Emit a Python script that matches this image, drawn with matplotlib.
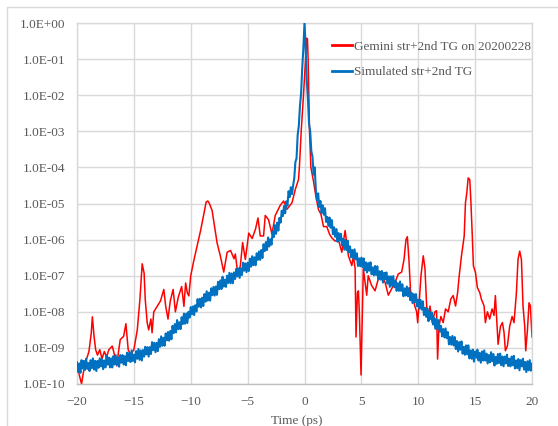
import matplotlib
matplotlib.use('Agg')
import matplotlib.pyplot as plt
import numpy as np
from matplotlib.patches import Rectangle
from matplotlib.ticker import FuncFormatter

# measured trace: Gemini str+2nd TG on 20200228 (time in ps, log10 of intensity)
red_t = [-20.0, -19.8, -19.6, -19.45, -19.25, -18.95, -18.75, -18.65, -18.5, -18.36,
         -18.2, -18.0, -17.8, -17.6, -17.4, -17.2, -16.9, -16.7, -16.5, -16.35,
         -16.2, -15.9, -15.7, -15.5, -15.3, -15.0, -14.7, -14.47, -14.27, -14.1,
         -14.0, -13.83, -13.7, -13.5, -13.4, -13.25, -12.95, -12.66, -12.37, -12.2,
         -12.0, -11.8, -11.55, -11.35, -11.1, -10.8, -10.6, -10.45, -10.3, -10.17,
         -10.0, -9.73, -9.44, -9.15, -8.86, -8.65, -8.5, -8.36, -8.12, -7.89,
         -7.68, -7.4, -7.1, -6.8, -6.5, -6.2, -6.08, -5.84, -5.64, -5.44,
         -5.2, -4.9, -4.6, -4.3, -4.09, -3.89, -3.6, -3.45, -3.16, -2.86,
         -2.57, -2.13, -1.84, -1.54, -1.1, -0.8, -0.53, -0.45, -0.29, -0.09,
         0.09, 0.2, 0.26, 0.32, 0.38, 0.44, 0.56, 0.8, 1.0, 1.23,
         1.45, 1.67, 1.96, 2.2, 2.4, 2.69, 2.98, 3.28, 3.57, 3.86,
         4.16, 4.3, 4.45, 4.53, 4.65, 4.74, 4.82, 4.97, 5.09, 5.17,
         5.32, 5.47, 5.6, 5.9, 6.2, 6.49, 6.78, 7.08, 7.37, 7.67,
         7.96, 8.25, 8.54, 8.75, 8.92, 9.04, 9.18, 9.33, 9.56, 9.7,
         9.86, 9.95, 10.06, 10.24, 10.44, 10.59, 10.74, 10.88, 11.03, 11.23,
         11.46, 11.61, 11.7, 11.82, 11.99, 12.19, 12.4, 12.63, 12.87, 13.07,
         13.28, 13.46, 13.6, 13.8, 14.04, 14.15, 14.27, 14.39, 14.53, 14.62,
         14.74, 14.85, 15.03, 15.2, 15.41, 15.55, 15.79, 15.9, 16.08, 16.28,
         16.49, 16.66, 16.78, 16.9, 17.02, 17.23, 17.4, 17.54, 17.66, 17.84,
         18.04, 18.25, 18.42, 18.63, 18.77, 18.92, 19.07, 19.21, 19.36, 19.45,
         19.6, 19.74, 19.86, 20.0]
red_log = [-9.5, -9.75, -10.0, -9.7, -9.4, -9.1, -8.6, -8.14, -8.68, -9.05,
           -9.2, -9.05, -9.3, -9.1, -9.25, -9.05, -8.95, -9.2, -9.5, -9.1,
           -8.77, -8.68, -8.33, -9.05, -9.18, -9.05, -8.5, -7.66, -6.67, -6.93,
           -7.66, -8.3, -8.5, -8.2, -8.58, -8.0, -7.85, -7.7, -7.38, -7.85,
           -8.2, -7.7, -7.38, -8.0, -7.6, -7.3, -7.85, -7.2, -7.48, -7.56,
           -7.0, -6.58, -6.17, -5.77, -5.31, -4.96, -4.93, -5.0, -5.2, -5.67,
           -6.1, -6.45, -6.9, -6.35, -6.3, -6.53, -6.4, -7.0, -6.72, -6.08,
           -6.55, -5.82, -5.97, -5.7, -5.4, -5.9, -5.9, -5.33, -5.45, -5.85,
           -5.33, -5.05, -4.93, -5.16, -4.98, -4.6, -4.34, -4.0, -3.0, -2.0,
           -1.0, -0.42, -0.45, -1.0, -2.0, -3.0, -4.0, -4.4, -4.8, -5.17,
           -5.3, -5.64, -5.64, -5.85, -5.95, -6.04, -6.0, -6.35, -5.75, -6.45,
           -6.72, -6.45, -6.8, -8.7, -7.47, -7.42, -8.0, -9.75, -8.0, -6.8,
           -7.17, -7.54, -7.0, -7.27, -7.42, -7.09, -7.0, -7.18, -7.54, -7.36,
           -7.18, -6.95, -6.9, -6.55, -6.0, -5.92, -6.55, -7.47, -7.65, -7.84,
           -8.0, -8.3, -7.84, -7.0, -6.45, -6.8, -7.84, -8.2, -7.84, -8.3,
           -8.0, -7.97, -9.31, -8.4, -8.13, -8.3, -7.92, -8.0, -7.64, -7.55,
           -7.84, -7.47, -7.0, -6.45, -5.9, -4.98, -4.7, -4.29, -4.34, -4.89,
           -5.81, -6.73, -6.91, -7.33, -7.47, -7.65, -7.84, -8.3, -8.0, -8.2,
           -7.92, -8.1, -7.55, -8.2, -8.9, -8.4, -8.3, -8.57, -9.08, -8.94,
           -8.4, -8.13, -8.3, -7.47, -6.55, -6.32, -6.55, -7.84, -8.4, -9.08,
           -8.5, -7.75, -7.84, -8.7]

# simulated trace: Simulated str+2nd TG, one sample every 0.1 ps
blue_t = [-20.0, -19.9, -19.8, -19.7, -19.6, -19.5, -19.4, -19.3, -19.2, -19.1,
          -19.0, -18.9, -18.8, -18.7, -18.6, -18.5, -18.4, -18.3, -18.2, -18.1,
          -18.0, -17.9, -17.8, -17.7, -17.6, -17.5, -17.4, -17.3, -17.2, -17.1,
          -17.0, -16.9, -16.8, -16.7, -16.6, -16.5, -16.4, -16.3, -16.2, -16.1,
          -16.0, -15.9, -15.8, -15.7, -15.6, -15.5, -15.4, -15.3, -15.2, -15.1,
          -15.0, -14.9, -14.8, -14.7, -14.6, -14.5, -14.4, -14.3, -14.2, -14.1,
          -14.0, -13.9, -13.8, -13.7, -13.6, -13.5, -13.4, -13.3, -13.2, -13.1,
          -13.0, -12.9, -12.8, -12.7, -12.6, -12.5, -12.4, -12.3, -12.2, -12.1,
          -12.0, -11.9, -11.8, -11.7, -11.6, -11.5, -11.4, -11.3, -11.2, -11.1,
          -11.0, -10.9, -10.8, -10.7, -10.6, -10.5, -10.4, -10.3, -10.2, -10.1,
          -10.0, -9.9, -9.8, -9.7, -9.6, -9.5, -9.4, -9.3, -9.2, -9.1,
          -9.0, -8.9, -8.8, -8.7, -8.6, -8.5, -8.4, -8.3, -8.2, -8.1,
          -8.0, -7.9, -7.8, -7.7, -7.6, -7.5, -7.4, -7.3, -7.2, -7.1,
          -7.0, -6.9, -6.8, -6.7, -6.6, -6.5, -6.4, -6.3, -6.2, -6.1,
          -6.0, -5.9, -5.8, -5.7, -5.6, -5.5, -5.4, -5.3, -5.2, -5.1,
          -5.0, -4.9, -4.8, -4.7, -4.6, -4.5, -4.4, -4.3, -4.2, -4.1,
          -4.0, -3.9, -3.8, -3.7, -3.6, -3.5, -3.4, -3.3, -3.2, -3.1,
          -3.0, -2.9, -2.8, -2.7, -2.6, -2.5, -2.4, -2.3, -2.2, -2.1,
          -2.0, -1.9, -1.8, -1.7, -1.6, -1.5, -1.4, -1.3, -1.2, -1.1,
          -1.0, -0.9, -0.8, -0.7, -0.6, -0.5, -0.4, -0.3, -0.2, -0.1,
          0.0, 0.1, 0.2, 0.3, 0.4, 0.5, 0.6, 0.7, 0.8, 0.9,
          1.0, 1.1, 1.2, 1.3, 1.4, 1.5, 1.6, 1.7, 1.8, 1.9,
          2.0, 2.1, 2.2, 2.3, 2.4, 2.5, 2.6, 2.7, 2.8, 2.9,
          3.0, 3.1, 3.2, 3.3, 3.4, 3.5, 3.6, 3.7, 3.8, 3.9,
          4.0, 4.1, 4.2, 4.3, 4.4, 4.5, 4.6, 4.7, 4.8, 4.9,
          5.0, 5.1, 5.2, 5.3, 5.4, 5.5, 5.6, 5.7, 5.8, 5.9,
          6.0, 6.1, 6.2, 6.3, 6.4, 6.5, 6.6, 6.7, 6.8, 6.9,
          7.0, 7.1, 7.2, 7.3, 7.4, 7.5, 7.6, 7.7, 7.8, 7.9,
          8.0, 8.1, 8.2, 8.3, 8.4, 8.5, 8.6, 8.7, 8.8, 8.9,
          9.0, 9.1, 9.2, 9.3, 9.4, 9.5, 9.6, 9.7, 9.8, 9.9,
          10.0, 10.1, 10.2, 10.3, 10.4, 10.5, 10.6, 10.7, 10.8, 10.9,
          11.0, 11.1, 11.2, 11.3, 11.4, 11.5, 11.6, 11.7, 11.8, 11.9,
          12.0, 12.1, 12.2, 12.3, 12.4, 12.5, 12.6, 12.7, 12.8, 12.9,
          13.0, 13.1, 13.2, 13.3, 13.4, 13.5, 13.6, 13.7, 13.8, 13.9,
          14.0, 14.1, 14.2, 14.3, 14.4, 14.5, 14.6, 14.7, 14.8, 14.9,
          15.0, 15.1, 15.2, 15.3, 15.4, 15.5, 15.6, 15.7, 15.8, 15.9,
          16.0, 16.1, 16.2, 16.3, 16.4, 16.5, 16.6, 16.7, 16.8, 16.9,
          17.0, 17.1, 17.2, 17.3, 17.4, 17.5, 17.6, 17.7, 17.8, 17.9,
          18.0, 18.1, 18.2, 18.3, 18.4, 18.5, 18.6, 18.7, 18.8, 18.9,
          19.0, 19.1, 19.2, 19.3, 19.4, 19.5, 19.6, 19.7, 19.8, 19.9,
          20.0]
blue_log = [-9.40, -9.67, -9.43, -9.69, -9.34, -9.57, -9.36, -9.61, -9.30, -9.58,
            -9.42, -9.64, -9.34, -9.56, -9.29, -9.60, -9.36, -9.64, -9.36, -9.55,
            -9.29, -9.51, -9.32, -9.59, -9.35, -9.54, -9.22, -9.46, -9.27, -9.54,
            -9.29, -9.54, -9.23, -9.46, -9.20, -9.47, -9.27, -9.52, -9.20, -9.41,
            -9.20, -9.46, -9.23, -9.48, -9.13, -9.36, -9.14, -9.39, -9.07, -9.36,
            -9.19, -9.40, -9.09, -9.30, -9.03, -9.33, -9.07, -9.35, -9.06, -9.24,
            -8.97, -9.18, -8.98, -9.24, -8.98, -9.17, -8.84, -9.06, -8.86, -9.12,
            -8.86, -9.09, -8.76, -8.97, -8.68, -8.94, -8.72, -8.94, -8.60, -8.79,
            -8.56, -8.80, -8.53, -8.76, -8.39, -8.59, -8.34, -8.57, -8.23, -8.48,
            -8.29, -8.48, -8.15, -8.34, -8.05, -8.33, -8.05, -8.31, -8.00, -8.16,
            -7.87, -8.07, -7.85, -8.09, -7.82, -7.99, -7.65, -7.86, -7.64, -7.88,
            -7.61, -7.84, -7.51, -7.72, -7.43, -7.69, -7.47, -7.69, -7.35, -7.54,
            -7.31, -7.55, -7.30, -7.53, -7.17, -7.37, -7.13, -7.37, -7.03, -7.30,
            -7.11, -7.31, -7.00, -7.20, -6.92, -7.21, -6.94, -7.21, -6.91, -7.09,
            -6.81, -7.02, -6.80, -7.06, -6.80, -6.98, -6.64, -6.86, -6.66, -6.90,
            -6.64, -6.87, -6.53, -6.75, -6.46, -6.71, -6.49, -6.71, -6.38, -6.56,
            -6.33, -6.56, -6.29, -6.51, -6.13, -6.32, -6.07, -6.29, -5.94, -6.19,
            -5.99, -6.14, -5.78, -5.93, -5.60, -5.84, -5.53, -5.75, -5.40, -5.53,
            -5.20, -5.35, -5.07, -5.27, -4.94, -5.06, -4.66, -4.82, -4.55, -4.74,
            -4.50, -4.30, -3.85, -3.75, -3.10, -2.85, -2.30, -1.95, -1.25, -0.70,
            0.0, -0.70, -1.60, -2.10, -2.80, -3.00, -3.55, -3.70, -4.20, -4.00,
            -4.65, -4.91, -4.72, -5.10, -4.93, -5.26, -5.05, -5.31, -5.13, -5.51,
            -5.37, -5.62, -5.39, -5.67, -5.46, -5.85, -5.66, -5.92, -5.71, -6.06,
            -5.82, -6.02, -5.84, -6.16, -5.98, -6.28, -6.01, -6.29, -6.03, -6.35,
            -6.19, -6.49, -6.29, -6.52, -6.27, -6.55, -6.38, -6.73, -6.52, -6.74,
            -6.50, -6.76, -6.52, -6.85, -6.63, -6.91, -6.65, -6.86, -6.63, -6.96,
            -6.77, -6.99, -6.73, -6.98, -6.74, -7.10, -6.88, -7.11, -6.87, -7.19,
            -6.92, -7.10, -6.91, -7.22, -7.02, -7.31, -7.02, -7.28, -7.01, -7.32,
            -7.14, -7.42, -7.21, -7.42, -7.16, -7.42, -7.24, -7.57, -7.35, -7.55,
            -7.30, -7.57, -7.34, -7.68, -7.47, -7.76, -7.51, -7.73, -7.51, -7.85,
            -7.67, -7.91, -7.67, -7.94, -7.71, -8.09, -7.89, -8.14, -7.91, -8.26,
            -8.00, -8.20, -8.02, -8.35, -8.17, -8.47, -8.20, -8.48, -8.23, -8.55,
            -8.39, -8.68, -8.48, -8.71, -8.46, -8.73, -8.56, -8.90, -8.70, -8.91,
            -8.67, -8.93, -8.70, -9.03, -8.81, -9.10, -8.84, -9.05, -8.82, -9.16,
            -8.97, -9.19, -8.93, -9.18, -8.93, -9.29, -9.07, -9.30, -9.05, -9.38,
            -9.10, -9.27, -9.05, -9.35, -9.14, -9.41, -9.10, -9.35, -9.07, -9.35,
            -9.16, -9.43, -9.20, -9.40, -9.12, -9.37, -9.17, -9.49, -9.25, -9.44,
            -9.17, -9.42, -9.16, -9.48, -9.24, -9.51, -9.24, -9.43, -9.19, -9.50,
            -9.30, -9.51, -9.24, -9.48, -9.22, -9.57, -9.35, -9.56, -9.31, -9.62,
            -9.34, -9.51, -9.30, -9.60, -9.39, -9.67, -9.37, -9.62, -9.34, -9.63,
            -9.44]

x_ticks = [-20, -15, -10, -5, 0, 5, 10, 15, 20]
labels = ['Gemini str+2nd TG on 20200228', 'Simulated str+2nd TG']

txt = '#595959'
grid_c = '#d9d9d9'
plt.rcParams['font.family'] = ['Liberation Serif', 'DejaVu Serif']

fig = plt.figure(figsize=(5.58, 4.26), dpi=100)
ax = fig.add_axes([77/558, 1 - 384/426, 455/558, 361/426])

ax.plot(red_t, np.power(10.0, red_log), color='#ff0000', lw=1.1, label=labels[0], zorder=2)
ax.plot(blue_t, np.power(10.0, blue_log), color='#0070c0', lw=1.5, label=labels[1], zorder=3)

ax.set_yscale('log')
ax.set_ylim(1e-10, 1)
ax.set_xlim(-20, 20)
ax.set_xticks(x_ticks)
ax.set_yticks([10.0 ** k for k in range(-10, 1)])
ax.yaxis.set_minor_locator(matplotlib.ticker.NullLocator())
ax.yaxis.set_major_formatter(FuncFormatter(lambda v, p: f'{v:.1E}'))
ax.grid(True, color=grid_c, lw=1.0)
ax.set_axisbelow(True)
for s in ax.spines.values():
    s.set_color(grid_c)
    s.set_linewidth(1.0)
ax.spines['bottom'].set_color('#bfbfbf')
ax.tick_params(length=0, labelsize=9.5, labelcolor=txt)
ax.tick_params(axis='y', pad=8.5)
ax.tick_params(axis='x', pad=8.5)
ax.set_xlabel('Time (ps)', fontsize=9.5, color=txt)
ax.xaxis.set_label_coords(0.482, -0.085)

leg = ax.legend(loc='upper left', bbox_to_anchor=(0.56, 0.951), frameon=False,
                fontsize=9.5, handlelength=1.5, handletextpad=0.15,
                borderpad=0, borderaxespad=0, labelspacing=1.0)
for t in leg.get_texts():
    t.set_color(txt)
for h in leg.get_lines():
    h.set_linewidth(2.0)

fig.patches.append(Rectangle((7/558, -0.1), 1.2, 1.1 - 7/426, fill=False,
                             ec=grid_c, lw=1.0, transform=fig.transFigure))

fig.savefig('out.png', dpi=100)
